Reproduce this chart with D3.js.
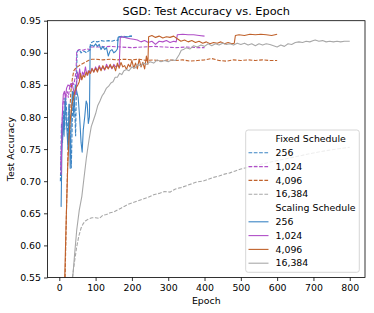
<!DOCTYPE html>
<html>
<head>
<meta charset="utf-8">
<script src="https://cdn.jsdelivr.net/npm/d3@7"></script>
<style>
  body { margin: 0; background: #fff; }
  text { font-family: "DejaVu Sans", sans-serif; }
</style>
</head>
<body>
<div class="chart"></div>
<script>
// epoch, test accuracy
var fixed256 = [[3,0.70],[6,0.79],[9,0.76],[12,0.81],[15,0.78],[18,0.83],[21,0.80],[24,0.76],[27,0.82],[30,0.78],[33,0.72],[36,0.80],[39,0.84],[42,0.82],[45,0.77],[47,0.85],[49,0.902],[55,0.905],[60,0.90],[65,0.903],[70,0.902],[75,0.90],[80,0.903],[84,0.904],[86,0.915],[95,0.918],[105,0.917],[115,0.919],[125,0.918],[135,0.919],[145,0.918],[155,0.92],[161,0.919],[163,0.925],[175,0.926],[185,0.925],[195,0.926],[200,0.926]];

var fixed1024 = [[4,0.72],[7,0.78],[10,0.82],[13,0.83],[16,0.815],[19,0.835],[22,0.84],[25,0.83],[28,0.845],[31,0.85],[34,0.845],[37,0.855],[40,0.85],[43,0.86],[46,0.87],[48,0.903],[55,0.905],[65,0.904],[75,0.906],[85,0.905],[88,0.909],[110,0.909],[140,0.91],[170,0.909],[200,0.908],[230,0.909],[260,0.91],[290,0.909],[320,0.908],[350,0.909],[380,0.908],[400,0.908]];

var fixed4096 = [[16,0.55],[20,0.66],[24,0.75],[28,0.80],[32,0.84],[36,0.86],[40,0.872],[45,0.876],[50,0.878],[55,0.88],[60,0.882],[70,0.885],[80,0.888],[90,0.89],[100,0.89],[120,0.889],[140,0.89],[160,0.889],[180,0.89],[200,0.889],[220,0.89],[240,0.888],[260,0.889],[280,0.887],[300,0.889],[320,0.888],[340,0.889],[360,0.887],[380,0.888],[400,0.889],[420,0.891],[440,0.888],[460,0.887],[480,0.889],[500,0.888],[520,0.889],[540,0.888],[560,0.889],[580,0.888],[600,0.888]];

var fixed16384 = [[36,0.55],[42,0.575],[48,0.598],[54,0.615],[60,0.627],[66,0.634],[72,0.638],[80,0.641],[90,0.643],[100,0.643],[110,0.642],[120,0.647],[130,0.648],[140,0.651],[150,0.652],[160,0.655],[170,0.658],[180,0.661],[190,0.664],[200,0.666],[215,0.669],[230,0.672],[245,0.675],[260,0.679],[275,0.681],[290,0.684],[305,0.683],[320,0.688],[335,0.69],[350,0.693],[365,0.696],[380,0.699],[395,0.7],[410,0.703],[425,0.706],[440,0.708],[455,0.711],[470,0.713],[485,0.716],[500,0.719],[515,0.721],[530,0.723],[560,0.727],[600,0.732],[650,0.738],[700,0.744],[750,0.749],[800,0.753]];

var scaling256 = [[5,0.66],[7,0.74],[10,0.80],[13,0.77],[16,0.83],[20,0.79],[24,0.75],[27,0.82],[30,0.72],[33,0.80],[36,0.84],[40,0.80],[44,0.85],[48,0.84],[52,0.83],[56,0.80],[60,0.76],[63,0.745],[66,0.78],[70,0.80],[74,0.825],[77,0.82],[80,0.79],[83,0.80],[85,0.91],[90,0.912],[95,0.91],[100,0.914],[105,0.91],[110,0.913],[115,0.905],[120,0.91],[125,0.905],[130,0.908],[135,0.895],[140,0.903],[145,0.905],[150,0.90],[155,0.902],[160,0.906],[162,0.924],[170,0.925],[180,0.924],[190,0.925],[200,0.926]];

var scaling1024 = [[5,0.71],[8,0.80],[11,0.835],[14,0.84],[17,0.83],[20,0.845],[24,0.85],[28,0.848],[32,0.852],[36,0.85],[40,0.84],[44,0.835],[47,0.845],[50,0.87],[53,0.86],[56,0.875],[60,0.858],[64,0.87],[68,0.865],[72,0.878],[76,0.865],[80,0.872],[85,0.868],[90,0.876],[95,0.87],[100,0.878],[105,0.872],[110,0.88],[115,0.874],[120,0.878],[125,0.873],[130,0.882],[135,0.876],[140,0.88],[145,0.875],[150,0.882],[155,0.878],[160,0.88],[165,0.879],[168,0.924],[175,0.925],[185,0.923],[195,0.922],[205,0.921],[215,0.92],[225,0.917],[235,0.919],[245,0.916],[255,0.918],[265,0.913],[275,0.918],[285,0.917],[295,0.919],[305,0.916],[315,0.918],[322,0.917],[325,0.928],[340,0.929],[355,0.928],[370,0.928],[385,0.927],[400,0.926]];

var scaling4096 = [[15,0.55],[19,0.64],[23,0.72],[27,0.77],[31,0.80],[35,0.82],[39,0.83],[43,0.84],[47,0.846],[51,0.85],[55,0.855],[58,0.868],[62,0.858],[66,0.865],[70,0.862],[74,0.87],[78,0.865],[82,0.872],[86,0.868],[90,0.875],[95,0.87],[100,0.876],[105,0.87],[110,0.878],[115,0.872],[120,0.88],[125,0.874],[130,0.879],[135,0.875],[140,0.882],[145,0.876],[150,0.88],[155,0.872],[160,0.884],[165,0.876],[170,0.885],[175,0.878],[180,0.88],[185,0.874],[190,0.882],[195,0.878],[200,0.888],[205,0.876],[210,0.884],[215,0.875],[220,0.89],[225,0.878],[230,0.885],[235,0.875],[240,0.895],[244,0.882],[246,0.925],[255,0.927],[265,0.924],[275,0.926],[285,0.923],[295,0.925],[305,0.924],[315,0.926],[325,0.922],[335,0.918],[345,0.92],[355,0.917],[365,0.919],[375,0.916],[385,0.918],[395,0.915],[405,0.917],[415,0.914],[425,0.916],[435,0.915],[445,0.917],[455,0.914],[465,0.916],[475,0.914],[482,0.915],[485,0.927],[495,0.928],[510,0.927],[525,0.929],[540,0.928],[555,0.929],[570,0.928],[585,0.927],[600,0.929]];

var scaling16384 = [[37,0.55],[42,0.585],[48,0.624],[55,0.655],[62,0.676],[68,0.705],[75,0.738],[82,0.765],[88,0.785],[94,0.795],[100,0.805],[106,0.818],[112,0.825],[118,0.833],[124,0.838],[130,0.845],[136,0.848],[142,0.853],[148,0.855],[154,0.862],[160,0.862],[166,0.868],[172,0.866],[178,0.872],[185,0.874],[192,0.872],[200,0.878],[208,0.876],[216,0.882],[224,0.88],[232,0.884],[240,0.882],[250,0.886],[260,0.884],[270,0.889],[280,0.886],[290,0.888],[300,0.886],[310,0.889],[320,0.888],[330,0.897],[336,0.904],[342,0.905],[350,0.908],[360,0.906],[370,0.911],[380,0.909],[390,0.912],[400,0.91],[410,0.914],[420,0.911],[430,0.914],[440,0.912],[450,0.915],[460,0.913],[470,0.914],[480,0.912],[490,0.915],[500,0.913],[510,0.915],[520,0.912],[530,0.914],[540,0.911],[550,0.914],[560,0.912],[570,0.914],[580,0.913],[590,0.911],[600,0.909],[610,0.912],[620,0.91],[630,0.914],[640,0.913],[650,0.916],[660,0.917],[670,0.916],[680,0.918],[690,0.917],[700,0.919],[705,0.92],[715,0.918],[725,0.919],[735,0.917],[745,0.918],[755,0.917],[765,0.918],[775,0.917],[785,0.918],[800,0.918]];

var batchLabels = ["256", "1,024", "4,096", "16,384"];
var colors = ["#3b84c4", "#b04fc8", "#c0622c", "#a8a8a8"];
var xTicks = [0, 100, 200, 300, 400, 500, 600, 700, 800];
var yTicks = [0.55, 0.60, 0.65, 0.70, 0.75, 0.80, 0.85, 0.90, 0.95];

var fixedRuns = [fixed256, fixed1024, fixed4096, fixed16384];
var scalingRuns = [scaling256, scaling1024, scaling4096, scaling16384];

var width = 374, height = 313,
    margin = {top: 20.7, right: 9, bottom: 35.5, left: 47.5};

var svg = d3.select("div.chart").append("svg")
    .attr("width", width)
    .attr("height", height);

var x = d3.scaleLinear()
    .domain([-32.5, 842])
    .range([margin.left, width - margin.right]);

var y = d3.scaleLinear()
    .domain([0.55, 0.95])
    .range([height - margin.bottom, margin.top]);

svg.append("clipPath").attr("id", "plot")
  .append("rect")
    .attr("x", margin.left).attr("y", margin.top)
    .attr("width", width - margin.right - margin.left)
    .attr("height", height - margin.bottom - margin.top);

var line = d3.line()
    .x(function(d) { return x(d[0]); })
    .y(function(d) { return y(d[1]); });

var plot = svg.append("g").attr("clip-path", "url(#plot)");

fixedRuns.forEach(function(run, i) {
  plot.append("path")
      .datum(run)
      .attr("fill", "none")
      .attr("stroke", colors[i])
      .attr("stroke-width", 1.1)
      .attr("stroke-dasharray", "3.7,1.6")
      .attr("d", line);
});

scalingRuns.forEach(function(run, i) {
  plot.append("path")
      .datum(run)
      .attr("fill", "none")
      .attr("stroke", colors[i])
      .attr("stroke-width", 1.1)
      .attr("stroke-linejoin", "round")
      .attr("d", line);
});

// axes
var xAxis = svg.append("g")
    .attr("transform", "translate(0," + (height - margin.bottom) + ")")
    .call(d3.axisBottom(x).tickValues(xTicks).tickSize(3.5).tickPadding(3));

var yAxis = svg.append("g")
    .attr("transform", "translate(" + margin.left + ",0)")
    .call(d3.axisLeft(y).tickValues(yTicks).tickFormat(d3.format(".2f")).tickSize(3.5).tickPadding(3));

[xAxis, yAxis].forEach(function(a) {
  a.select(".domain").remove();
  a.selectAll("text").attr("font-size", 9.4).attr("fill", "#000")
      .style("font-family", "DejaVu Sans, sans-serif");
  a.selectAll("line").attr("stroke", "#000").attr("stroke-width", 0.8);
});

svg.append("rect")
    .attr("x", margin.left)
    .attr("y", margin.top)
    .attr("width", width - margin.right - margin.left)
    .attr("height", height - margin.bottom - margin.top)
    .attr("fill", "none")
    .attr("stroke", "#000")
    .attr("stroke-width", 0.8);

svg.append("text")
    .attr("x", (margin.left + width - margin.right) / 2)
    .attr("y", 15)
    .attr("text-anchor", "middle")
    .attr("font-size", 11.3)
    .text("SGD: Test Accuracy vs. Epoch");

svg.append("text")
    .attr("x", (margin.left + width - margin.right) / 2)
    .attr("y", 304)
    .attr("text-anchor", "middle")
    .attr("font-size", 9.4)
    .text("Epoch");

svg.append("text")
    .attr("transform", "translate(14," + ((margin.top + height - margin.bottom) / 2) + ") rotate(-90)")
    .attr("text-anchor", "middle")
    .attr("font-size", 9.4)
    .text("Test Accuracy");

// legend
var legend = svg.append("g");

legend.append("rect")
    .attr("x", 245.7).attr("y", 130)
    .attr("width", 113.6).attr("height", 142.3)
    .attr("rx", 2.5)
    .attr("fill", "#fff").attr("fill-opacity", 0.8)
    .attr("stroke", "#cccccc").attr("stroke-width", 0.8);

var rows = [{label: "Fixed Schedule"}]
  .concat(batchLabels.map(function(l, i) { return {label: l, color: colors[i], dash: true}; }))
  .concat([{label: "Scaling Schedule"}])
  .concat(batchLabels.map(function(l, i) { return {label: l, color: colors[i], dash: false}; }));

var row = legend.selectAll(".row")
    .data(rows)
  .enter().append("g")
    .attr("class", "row")
    .attr("transform", function(d, i) { return "translate(0," + (139 + i * 13.8) + ")"; });

row.filter(function(d) { return d.color; })
  .append("line")
    .attr("x1", 248.5).attr("x2", 268.5)
    .attr("stroke", function(d) { return d.color; })
    .attr("stroke-width", 1.1)
    .attr("stroke-dasharray", function(d) { return d.dash ? "3.7,1.6" : null; });

row.append("text")
    .attr("x", 275.5)
    .attr("dy", "0.35em")
    .attr("font-size", 9.4)
    .text(function(d) { return d.label; });
</script>
</body>
</html>
